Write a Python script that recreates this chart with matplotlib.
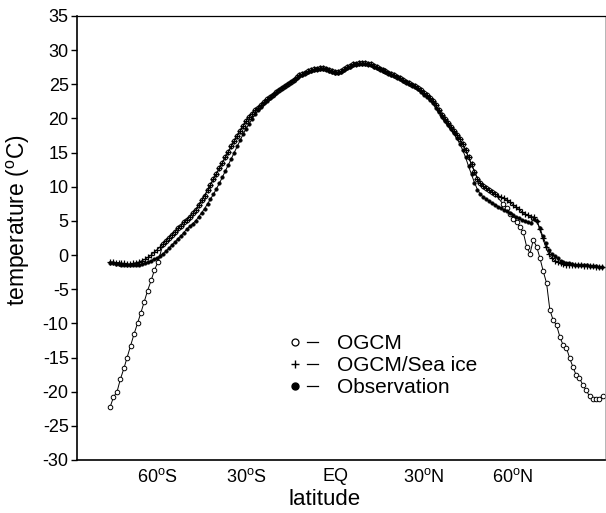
import matplotlib
matplotlib.use('Agg')
import matplotlib.pyplot as plt
from matplotlib.lines import Line2D
from matplotlib.legend_handler import HandlerTuple

plt.rcParams['font.family'] = ['Liberation Sans', 'DejaVu Sans']
plt.rcParams['mathtext.fontset'] = 'custom'
plt.rcParams['mathtext.rm'] = 'Liberation Sans'
plt.rcParams['mathtext.it'] = 'Liberation Sans:italic'

# ---------------- data ----------------
lat = list(range(-76, 91))  # 1-degree grid, 76S .. 90N

obs = [
    -1.2, -1.2, -1.3, -1.3, -1.4, -1.4, -1.5, -1.5, -1.5, -1.5,   # -76..-67
    -1.4, -1.3, -1.2, -1.0, -0.8, -0.6, -0.4, -0.1, 0.2, 0.6,     # -66..-57
    1.0, 1.5, 1.9, 2.4, 2.8, 3.3, 3.8, 4.2, 4.6, 5.0,             # -56..-47
    5.6, 6.2, 6.8, 7.5, 8.2, 8.9, 9.7, 10.5, 11.4, 12.3,          # -46..-37
    13.2, 14.1, 15.0, 15.9, 16.8, 17.7, 18.5, 19.2, 19.9, 20.6,   # -36..-27
    21.2, 21.7, 22.2, 22.6, 23.0, 23.4, 23.8, 24.1, 24.4, 24.7,   # -26..-17
    25.0, 25.3, 25.6, 25.9, 26.2, 26.4, 26.6, 26.8, 27.0, 27.1,   # -16..-7
    27.2, 27.3, 27.3, 27.2, 27.0, 26.8, 26.7, 26.7, 26.8, 27.1,   # -6..3
    27.4, 27.6, 27.8, 27.9, 28.0, 28.0, 28.0, 27.9, 27.8, 27.6,   # 4..13
    27.4, 27.2, 27.0, 26.8, 26.6, 26.4, 26.2, 26.0, 25.8, 25.5,   # 14..23
    25.3, 25.1, 24.9, 24.6, 24.3, 23.9, 23.5, 23.1, 22.7, 22.2,   # 24..33
    21.6, 20.9, 20.2, 19.6, 19.0, 18.4, 17.8, 17.1, 16.3, 15.4,   # 34..43
    14.3, 13.0, 11.8, 10.6, 9.6, 8.9, 8.5, 8.2, 7.9, 7.6,         # 44..53
    7.4, 7.1, 6.9, 6.6, 6.4, 6.1, 5.9, 5.6, 5.4, 5.2,             # 54..63
    5.0, 4.8, 4.7, 5.3, 5.0, 4.0, 2.8, 1.7, 0.8, 0.2,             # 64..73
    -0.2, -0.5, -0.8, -1.0, -1.1, -1.2, -1.3, -1.4, -1.4, -1.5,   # 74..83
    -1.5, -1.5, -1.6, -1.6, -1.6, -1.7, -1.7,                     # 84..90
]

seaice = [
    -1.0, -1.0, -1.1, -1.1, -1.2, -1.2, -1.3, -1.3, -1.2, -1.1,   # -76..-67
    -1.0, -0.8, -0.6, -0.3, 0.0, 0.4, 0.8, 1.2, 1.6, 2.1,         # -66..-57
    2.5, 3.0, 3.4, 3.9, 4.3, 4.8, 5.2, 5.6, 6.1, 6.6,             # -56..-47
    7.3, 8.0, 8.7, 9.5, 10.3, 11.1, 11.9, 12.7, 13.5, 14.3,       # -46..-37
    15.1, 15.9, 16.7, 17.5, 18.2, 18.9, 19.6, 20.2, 20.7, 21.2,   # -36..-27
    21.6, 22.0, 22.4, 22.8, 23.2, 23.5, 23.9, 24.2, 24.5, 24.8,   # -26..-17
    25.1, 25.4, 25.7, 26.0, 26.3, 26.5, 26.7, 26.9, 27.1, 27.2,   # -16..-7
    27.3, 27.4, 27.4, 27.3, 27.1, 26.9, 26.8, 26.8, 26.9, 27.2,   # -6..3
    27.5, 27.7, 27.9, 28.0, 28.1, 28.1, 28.1, 28.0, 27.9, 27.7,   # 4..13
    27.5, 27.3, 27.1, 26.9, 26.7, 26.5, 26.3, 26.1, 25.9, 25.7,   # 14..23
    25.4, 25.2, 24.9, 24.7, 24.4, 24.1, 23.8, 23.4, 23.0, 22.5,   # 24..33
    21.9, 21.2, 20.5, 19.9, 19.3, 18.7, 18.1, 17.6, 17.0, 16.3,   # 34..43
    15.4, 14.3, 13.3, 12.2, 11.2, 10.5, 10.1, 9.8, 9.5, 9.2,      # 44..53
    8.9, 8.7, 8.5, 8.3, 8.0, 7.7, 7.4, 7.0, 6.7, 6.3,             # 54..63
    6.0, 5.8, 5.6, 5.6, 5.0, 3.8, 2.5, 1.2, 0.2, -0.4,            # 64..73
    -0.8, -1.0, -1.2, -1.3, -1.4, -1.4, -1.5, -1.5, -1.5, -1.5,   # 74..83
    -1.6, -1.6, -1.6, -1.6, -1.7, -1.7, -1.7,                     # 84..90
]

# OGCM (no sea ice): polar segments read separately, identical to OGCM/Sea ice elsewhere
ogcm_lat_south = [-75.8, -74.7, -73.5, -72.4, -71.2, -70.1, -68.9, -67.8,
                  -66.6, -65.5, -64.3, -63.2, -62.0, -60.9, -59.7]
ogcm_t_south = [-22.2, -20.8, -20.0, -18.2, -16.6, -15.0, -13.3, -11.6,
                -10.0, -8.5, -6.8, -5.2, -3.7, -2.2, -1.0]
ogcm_lat_north = [56.6, 57.8, 59.0, 60.1, 61.2, 62.3, 63.4, 64.6, 65.7, 66.8,
                  68.0, 69.1, 70.2, 71.3, 72.4, 73.5, 74.7, 75.8, 76.9, 78.0,
                  79.1, 80.2, 81.3, 82.4, 83.5, 84.7, 85.8, 86.9, 88.0, 89.1, 90.2]
ogcm_t_north = [7.5, 6.9, 6.0, 5.3, 4.8, 4.1, 3.4, 1.2, 0.2, 2.2,
                1.2, -0.5, -2.4, -4.1, -8.0, -9.5, -10.3, -12.0, -13.2, -13.6,
                -15.1, -16.4, -17.6, -18.0, -19.0, -19.8, -20.7, -21.0, -21.1, -21.0, -20.6]
mid_lo, mid_hi = -58, 54
ogcm_lat = (ogcm_lat_south
            + [l for l in lat if mid_lo <= l <= mid_hi]
            + ogcm_lat_north)
ogcm = (ogcm_t_south
        + [t for l, t in zip(lat, seaice) if mid_lo <= l <= mid_hi]
        + ogcm_t_north)

xticks = [-60, -30, 0, 30, 60]
xticklabels = [r'60$^{\rm o}$S', r'30$^{\rm o}$S', 'EQ', r'30$^{\rm o}$N', r'60$^{\rm o}$N']
yticks = list(range(-30, 36, 5))
labels = ['OGCM', 'OGCM/Sea ice', 'Observation']

# ---------------- figure ----------------
fig = plt.figure(figsize=(6.06, 5.13), dpi=100)
ax = fig.add_axes([77 / 606, 53 / 513, 528 / 606, 444 / 513])

lw = 0.7
ax.plot(ogcm_lat, ogcm, color='k', lw=lw, marker='o', ms=3.3, mfc='white',
        mec='k', mew=0.7, zorder=2)
ax.plot(lat, seaice, color='k', lw=lw, marker='+', ms=4.0, mew=0.9, zorder=3)
ax.plot(lat, obs, color='k', lw=lw, marker='o', ms=2.6, mfc='k', mec='k',
        mew=0.3, zorder=4)

ax.set_xlim(-87, 91)
ax.set_ylim(-30, 35)
ax.set_xticks(xticks)
ax.set_xticklabels(xticklabels, fontsize=13)
ax.set_yticks(yticks)
ax.set_yticklabels([str(v) for v in yticks], fontsize=13)
ax.tick_params(axis='x', length=0, pad=6)
ax.tick_params(axis='y', direction='out', length=4, width=1, pad=2)

for side in ['left', 'bottom']:
    ax.spines[side].set_linewidth(1.2)
ax.spines['top'].set_linewidth(0.9)
ax.spines['right'].set_linewidth(0.5)
ax.spines['right'].set_color('#999999')

ax.set_xlabel('latitude', fontsize=16)
ax.xaxis.set_label_coords(0.468, -0.066)
ax.set_ylabel(r'temperature ($^{\rm o}$C)', fontsize=16.5)
ax.yaxis.set_label_coords(-0.085, 0.54)

handles = [
    (Line2D([], [], ls='none', marker='o', ms=5, mfc='white', mec='k', mew=0.9),
     Line2D([], [], color='k', lw=0.9)),
    (Line2D([], [], ls='none', marker='+', ms=6, mec='k', mew=1.0),
     Line2D([], [], color='k', lw=0.9)),
    (Line2D([], [], ls='none', marker='o', ms=5, mfc='k', mec='k'),
     Line2D([], [], color='k', lw=0.9)),
]
ax.legend(handles, labels, handler_map={tuple: HandlerTuple(ndivide=None, pad=0.3)},
          loc='center left', bbox_to_anchor=(0.4015, 0.212), frameon=False,
          fontsize=15, handlelength=1.4, handletextpad=0.9, labelspacing=0.14,
          borderpad=0, borderaxespad=0)

fig.savefig('out.png', dpi=100)
